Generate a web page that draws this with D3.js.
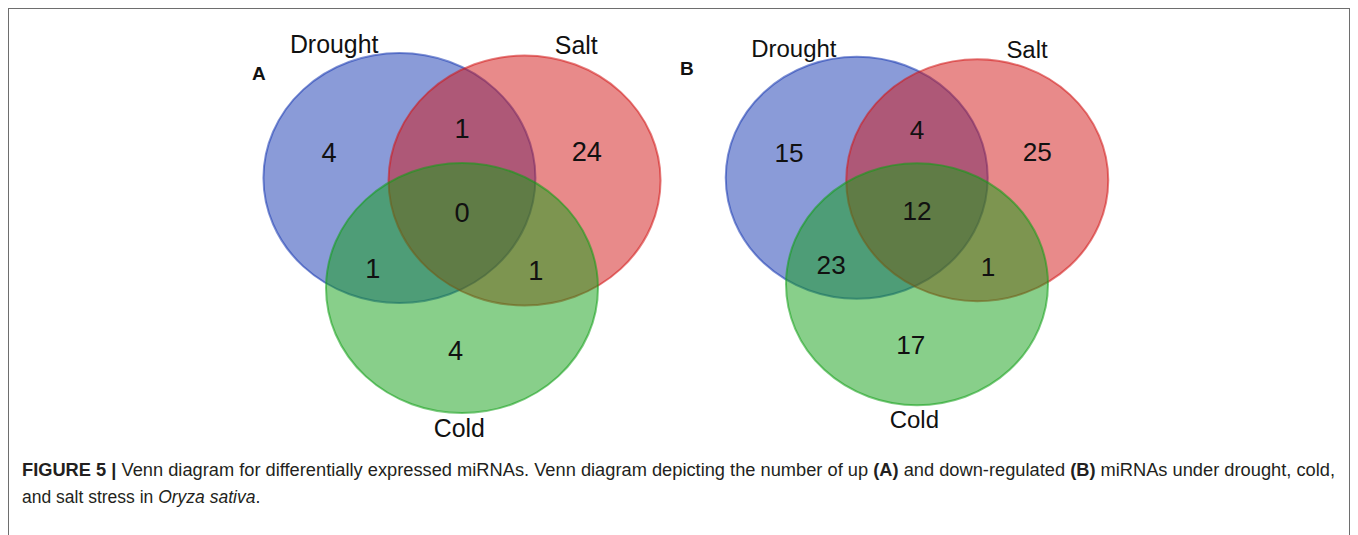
<!DOCTYPE html>
<html>
<head>
<meta charset="utf-8">
<script src="https://cdn.jsdelivr.net/npm/d3@7"></script>
<style>
  body { margin: 0; background: #fff; }
  svg { display: block; font-family: "Liberation Sans", Arial, sans-serif; }
</style>
</head>
<body>
<svg id="viz" width="1358" height="535"></svg>
<script>
// sets and the counts of each Venn region
let set_names = ['Drought', 'Salt', 'Cold'];
let set_colors = ['#1537b1', '#d11515', '#119f15'];
let region_names = ['Drought', 'Drought&Salt', 'Salt', 'Drought&Salt&Cold', 'Drought&Cold', 'Salt&Cold', 'Cold'];
let up_counts = [4, 1, 24, 0, 1, 1, 4];      // panel A, up-regulated
let down_counts = [15, 4, 25, 12, 23, 1, 17]; // panel B, down-regulated
let panel_labels = ['A', 'B'];

// layout of a 3-set venn in unit space (circle radius 1)
let set_pos = {
    'Drought': [-0.46, -0.44],
    'Salt': [0.46, -0.42],
    'Cold': [0.0, 0.44]
}
let set_label_pos = {
    'Drought': [-0.94, -1.44],
    'Salt': [0.84, -1.43],
    'Cold': [-0.02, 1.63]
}
let region_pos = {
    'Drought': [-0.977, -0.645],
    'Drought&Salt': [0.0, -0.838],
    'Salt': [0.918, -0.658],
    'Drought&Salt&Cold': [0.0, -0.165],
    'Drought&Cold': [-0.655, 0.28],
    'Salt&Cold': [0.543, 0.296],
    'Cold': [-0.047, 0.94]
}

window.onload = function () {
    const svg = d3.select('#viz');

    // outer frame
    svg.append('rect')
        .attr('x', 8.5).attr('y', 8.5)
        .attr('width', 1341).attr('height', 560)
        .attr('fill', 'none')
        .attr('stroke', '#6e6e6e')
        .attr('stroke-width', 1);

    let panels = [
        {label: panel_labels[0], counts: up_counts, ox: 462, oy: 233, sx: 136, sy: 125, lx: 252, ly: 80},
        {label: panel_labels[1], counts: down_counts, ox: 917, oy: 231, sx: 131, sy: 121, lx: 680, ly: 75}
    ];

    panels.forEach(p => draw_venn(svg, p));

    // caption
    let cap = svg.append('text')
        .attr('x', 22).attr('y', 476)
        .attr('font-size', 17.5)
        .attr('fill', '#231f20')
        .attr('textLength', 1313)
        .attr('lengthAdjust', 'spacingAndGlyphs');
    cap.append('tspan').attr('font-weight', 'bold').text('FIGURE 5 |');
    cap.append('tspan').text(' Venn diagram for differentially expressed miRNAs. Venn diagram depicting the number of up ');
    cap.append('tspan').attr('font-weight', 'bold').text('(A)');
    cap.append('tspan').text(' and down-regulated ');
    cap.append('tspan').attr('font-weight', 'bold').text('(B)');
    cap.append('tspan').text(' miRNAs under drought, cold,');

    let cap2 = svg.append('text')
        .attr('x', 22).attr('y', 503)
        .attr('font-size', 17.5)
        .attr('fill', '#231f20');
    cap2.append('tspan').text('and salt stress in ');
    cap2.append('tspan').attr('font-style', 'italic').text('Oryza sativa');
    cap2.append('tspan').text('.');
}

function draw_venn(svg, p) {
    let x = d3.scaleLinear().domain([-1, 1]).range([p.ox - p.sx, p.ox + p.sx]);
    let y = d3.scaleLinear().domain([-1, 1]).range([p.oy - p.sy, p.oy + p.sy]);
    let g = svg.append('g');

    g.selectAll('ellipse')
        .data(set_names)
        .join('ellipse')
        .attr('cx', d => x(set_pos[d][0]))
        .attr('cy', d => y(set_pos[d][1]))
        .attr('rx', x(1) - x(0))
        .attr('ry', y(1) - y(0))
        .attr('fill', (d, i) => set_colors[i])
        .attr('fill-opacity', 0.5)
        .attr('stroke', (d, i) => set_colors[i])
        .attr('stroke-opacity', 0.55)
        .attr('stroke-width', 2);

    let num_size = (x(1) - x(0)) * 0.2;
    g.selectAll('text.count')
        .data(region_names)
        .join('text')
        .attr('class', 'count')
        .attr('x', d => x(region_pos[d][0]))
        .attr('y', d => y(region_pos[d][1]))
        .attr('dy', '0.36em')
        .attr('text-anchor', 'middle')
        .attr('font-size', num_size)
        .attr('fill', '#111')
        .text((d, i) => p.counts[i]);

    let lab_size = (x(1) - x(0)) * 0.183;
    g.selectAll('text.setname')
        .data(set_names)
        .join('text')
        .attr('class', 'setname')
        .attr('x', d => x(set_label_pos[d][0]))
        .attr('y', d => y(set_label_pos[d][1]))
        .attr('text-anchor', 'middle')
        .attr('font-size', lab_size)
        .attr('fill', '#111')
        .text(d => d);

    g.append('text')
        .attr('x', p.lx).attr('y', p.ly)
        .attr('font-size', 19)
        .attr('font-weight', 'bold')
        .attr('fill', '#111')
        .text(p.label);
}
</script>
</body>
</html>
